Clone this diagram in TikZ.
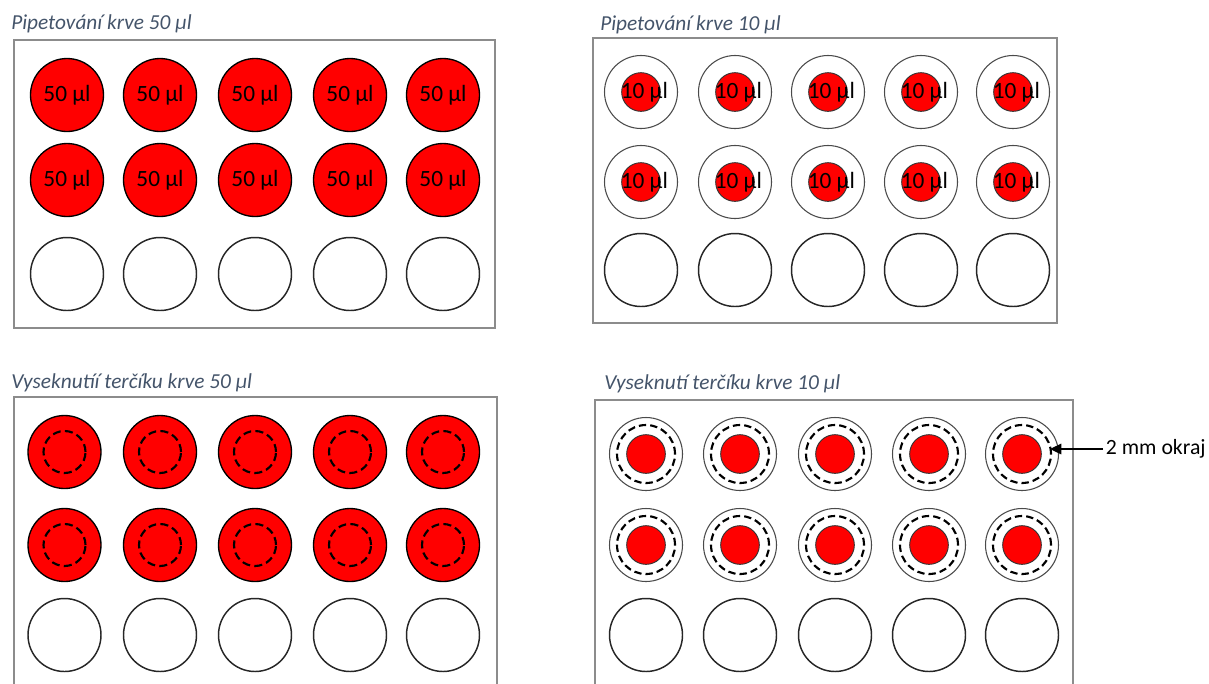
\documentclass[tikz,border=0pt]{standalone}
\usepackage{fontspec}
\setmainfont{Carlito}
\usetikzlibrary{arrows.meta}
\definecolor{ttl}{HTML}{44546A}
\definecolor{frm}{HTML}{8C8C8C}
\definecolor{ringc}{HTML}{4A4A4A}
\begin{document}
\begin{tikzpicture}[x=0.75pt,y=-0.75pt,
  frame/.style={draw=frm,line width=1.2pt},
  title/.style={anchor=base west,inner sep=0pt,text=ttl,font=\fontsize{16}{18}\itshape},
  welltxt/.style={font=\fontsize{17.5}{20}\selectfont,text=black},
  blood/.style={circle,draw=black,line width=1pt,fill=red,inner sep=0pt,minimum size=54.75pt,welltxt},
  emptywell/.style={circle,draw=black!85,line width=1.1pt,inner sep=0pt,minimum size=54.75pt},
  ring/.style={circle,draw=ringc,line width=0.8pt,inner sep=0pt,minimum size=54.75pt},
  drop/.style={circle,draw=black!80,line width=0.7pt,fill=red,inner sep=0pt,minimum size=29pt},
  cut50/.style={circle,draw=black,line width=1.6pt,dash pattern=on 6pt off 3.2pt,inner sep=0pt,minimum size=31.5pt},
  cut10/.style={circle,draw=black,line width=1.6pt,dash pattern=on 5.5pt off 3pt,inner sep=0pt,minimum size=43.5pt}
]
\useasboundingbox (0,0) rectangle (1209,683);

% ---- Panel 1 ----
\node[title] (t1) at (11,29) {Pipetování krve 50 µl};
\draw[frame] (14,40) rectangle (495,328);
\foreach \r/\y in {1/95,2/180}{
  \foreach \c/\x in {1/67,2/160,3/255,4/350,5/443}{
    \node[blood] (a-\r-\c) at (\x,\y) {50 µl};
  }
}
\foreach \c/\x in {1/67,2/160,3/255,4/350,5/443}{
  \node[emptywell] (a-3-\c) at (\x,274) {};
}

% ---- Panel 2 ----
\node[title] (t2) at (600,30) {Pipetování krve 10 µl};
\draw[frame] (593,38) rectangle (1057,323);
\foreach \r/\y in {1/92,2/182}{
  \foreach \c/\x in {1/641,2/735,3/828,4/921,5/1013}{
    \node[ring] (b-\r-\c) at (\x,\y) {};
    \node[drop] (bd-\r-\c) at (\x,\y) {};
    \node[welltxt,inner sep=0pt] (bt-\r-\c) at ([xshift=2.5pt]bd-\r-\c.center) {10 µl};
  }
}
\foreach \c/\x in {1/641,2/735,3/828,4/921,5/1013}{
  \node[emptywell] (b-3-\c) at (\x,270) {};
}

% ---- Panel 3 ----
\node[title] (t3) at (11,388) {Vyseknutíí terčíku krve 50 µl};
\draw[frame] (14,690) -- (14,397) -- (497,397) -- (497,690);
\foreach \r/\y in {1/452,2/545}{
  \foreach \c/\x in {1/64.5,2/160,3/255,4/350,5/443}{
    \node[blood] (c-\r-\c) at (\x,\y) {};
    \node[cut50] (cc-\r-\c) at (\x,\y) {};
  }
}
\foreach \c/\x in {1/64.5,2/160,3/255,4/350,5/443}{
  \node[emptywell] (c-3-\c) at (\x,635) {};
}

% ---- Panel 4 ----
\node[title] (t4) at (604,389) {Vyseknutí terčíku krve 10 µl};
\draw[frame] (595,690) -- (595,400) -- (1073,400) -- (1073,690);
\foreach \r/\y in {1/454,2/545}{
  \foreach \c/\x in {1/646,2/740,3/835,4/929,5/1022}{
    \node[ring] (d-\r-\c) at (\x,\y) {};
    \node[cut10] (dc-\r-\c) at (\x,\y) {};
    \node[drop] (dd-\r-\c) at (\x,\y) {};
  }
}
\foreach \c/\x in {1/646,2/740,3/835,4/929,5/1022}{
  \node[emptywell] (d-3-\c) at (\x,635) {};
}

% ---- annotation ----
\node[anchor=west,inner sep=2pt,font=\fontsize{16.3}{18}\selectfont] (lbl) at (1103,449) {2 mm okraj};
\coordinate (tip) at (1050,449);
\draw[line width=0.8pt,-{Triangle[length=8.5pt,width=8pt]}] (lbl.west) -- (tip);
\end{tikzpicture}
\end{document}
